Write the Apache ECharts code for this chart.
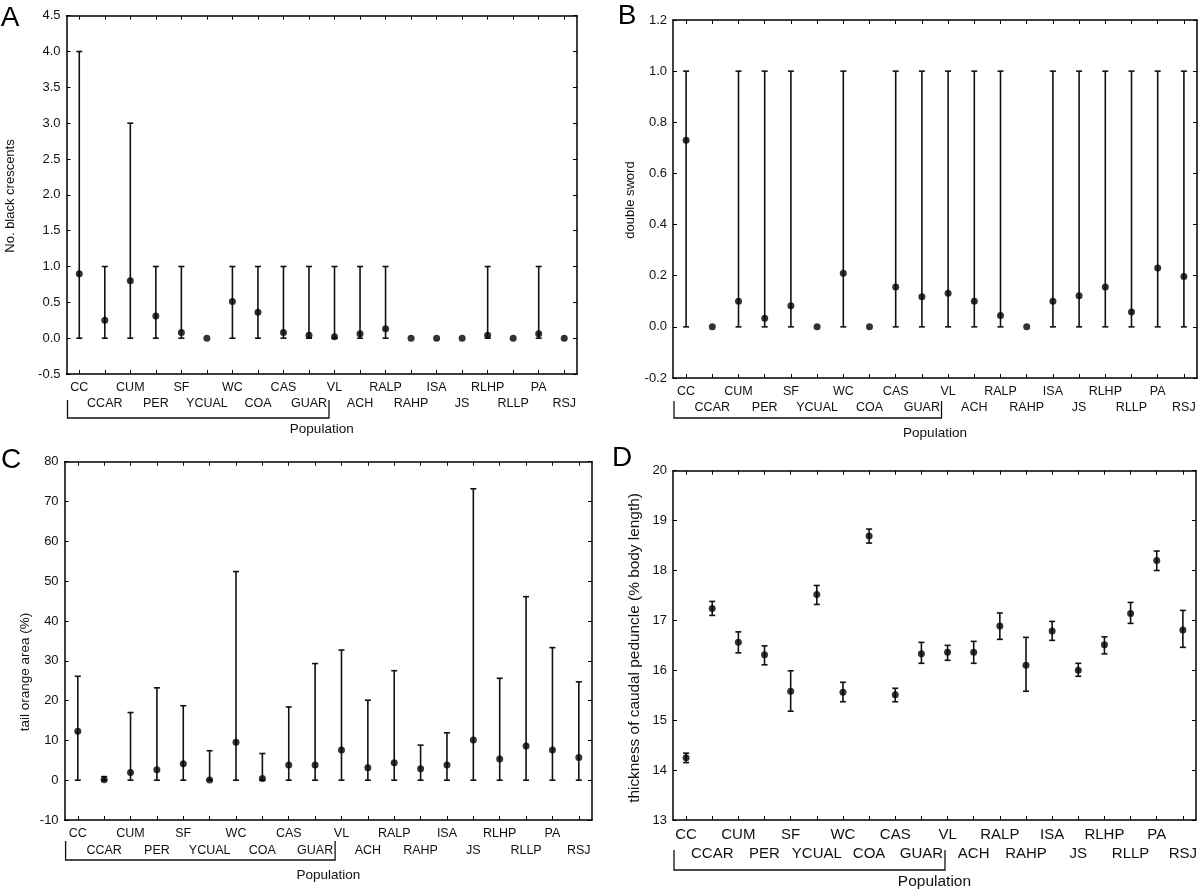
<!DOCTYPE html>
<html>
<head>
<meta charset="utf-8">
<script src="https://cdn.jsdelivr.net/npm/echarts@6/dist/echarts.min.js"></script>
<style>
html,body{margin:0;padding:0;background:#fff;}
#c{width:1200px;height:891px;}
</style>
</head>
<body>
<div id="c"></div>
<script>
// ---------- data ----------
const categories = ['CC','CCAR','CUM','PER','SF','YCUAL','WC','COA','CAS','GUAR','VL','ACH','RALP','RAHP','ISA','JS','RLHP','RLLP','PA','RSJ'];

// A: No. black crescents
const aMean = [0.90,0.25,0.80,0.31,0.08,0.00,0.51,0.36,0.08,0.04,0.02,0.06,0.13,0.00,0.00,0.00,0.04,0.00,0.06,0.00];
const aLow  = [0,0,0,0,0,0,0,0,0,0,0,0,0,0,0,0,0,0,0,0];
const aHigh = [4,1,3,1,1,0,1,1,1,1,1,1,1,0,0,0,1,0,1,0];
const aTicks = [-0.5,0,0.5,1,1.5,2,2.5,3,3.5,4,4.5];

// B: double sword
const bMean = [0.73,0.00,0.10,0.034,0.083,0.00,0.21,0.00,0.156,0.118,0.131,0.10,0.044,0.00,0.10,0.122,0.156,0.058,0.23,0.197];
const bLow  = [0,0,0,0,0,0,0,0,0,0,0,0,0,0,0,0,0,0,0,0];
const bHigh = [1,0,1,1,1,0,1,0,1,1,1,1,1,0,1,1,1,1,1,1];
const bTicks = [-0.2,0,0.2,0.4,0.6,0.8,1.0,1.2];

// C: tail orange area (%)
const cMean = [12.3,0.1,1.9,2.6,4.1,0.05,9.5,0.4,3.8,3.8,7.6,3.1,4.4,2.9,3.8,10.1,5.3,8.6,7.6,5.7];
const cLow  = [0,0,0,0,0,0,0,0,0,0,0,0,0,0,0,0,0,0,0,0];
const cHigh = [26.1,0.9,17.0,23.2,18.7,7.4,52.4,6.7,18.4,29.3,32.7,20.1,27.5,8.8,11.9,73.2,25.6,46.1,33.3,24.7];
const cTicks = [-10,0,10,20,30,40,50,60,70,80];

// D: thickness of caudal peduncle (% body length)
const dMean = [14.25,17.24,16.56,16.31,15.58,17.52,15.56,18.69,15.51,16.33,16.36,16.36,16.89,16.10,16.79,16.00,16.51,17.14,18.20,16.81];
const dLow  = [14.15,17.10,16.35,16.11,15.18,17.32,15.37,18.55,15.37,16.14,16.20,16.14,16.62,15.58,16.60,15.88,16.33,16.94,18.00,16.46];
const dHigh = [14.34,17.38,16.77,16.49,15.99,17.70,15.76,18.83,15.64,16.56,16.50,16.58,17.15,16.66,16.98,16.14,16.67,17.36,18.39,17.20];
const dTicks = [13,14,15,16,17,18,19,20];

const yTitles = ['No. black crescents','double sword','tail orange area (%)','thickness of caudal peduncle (% body length)'];
const panelLetters = ['A','B','C','D'];
const xTitle = 'Population';

// ---------- layout ----------
const FONT = '"Liberation Sans", Arial, Helvetica, sans-serif';
const INK = '#111';
const panels = [
  {mean:aMean, low:aLow, high:aHigh, ticks:aTicks, dec:1,
   grid:{left:66.5, top:15.7, width:510.5, height:358.3},
   fs:12.5, lh:16, margin:6, nameFs:13.5, nameGap:48, yLabFs:13,
   letter:[10,18], ytitle:[10,196], ytFs:13,
   br:{yTop:26, yBot:44, dx:20}},
  {mean:bMean, low:bLow, high:bHigh, ticks:bTicks, dec:1,
   grid:{left:673, top:20, width:524, height:358},
   fs:12.5, lh:16, margin:6, nameFs:13.5, nameGap:48, yLabFs:13,
   letter:[627,16], ytitle:[630,200], ytFs:13,
   br:{yTop:23, yBot:40, dx:19.6}},
  {mean:cMean, low:cLow, high:cHigh, ticks:cTicks, dec:0,
   grid:{left:64.6, top:461.7, width:527.4, height:358.3},
   fs:12.5, lh:17, margin:5, nameFs:13.5, nameGap:48, yLabFs:13,
   letter:[11,460], ytitle:[25,672], ytFs:13.5,
   br:{yTop:21, yBot:40, dx:20}},
  {mean:dMean, low:dLow, high:dHigh, ticks:dTicks, dec:0,
   grid:{left:673, top:470.7, width:525, height:350.3},
   fs:15, lh:19, margin:5.5, nameFs:15.5, nameGap:54, yLabFs:13,
   letter:[622,458], ytitle:[635,648], ytFs:15.4,
   br:{yTop:29, yBot:49, dx:23.6}}
];

const grids = [], xAxes = [], yAxes = [], series = [];
const lineSt = {color:'#000', width:1.5};
panels.forEach((p, k) => {
  grids.push(Object.assign({containLabel:false}, p.grid));
  const tmin = p.ticks[0], tmax = p.ticks[p.ticks.length-1], step = +(p.ticks[1]-p.ticks[0]).toFixed(6);
  // bottom category axis
  xAxes.push({
    type:'category', gridIndex:k, data:categories, position:'bottom',
    boundaryGap:true,
    axisLine:{show:true, onZero:false, lineStyle:lineSt},
    axisTick:{show:true, inside:true, length:4, alignWithLabel:true, interval:0, lineStyle:{color:'#000'}},
    axisLabel:{interval:0, margin:p.margin, fontSize:p.fs, lineHeight:p.lh, color:INK, fontFamily:FONT,
      formatter:(v)=>{const i=categories.indexOf(v); return i%2 ? '\n'+v : v;}},
    splitLine:{show:false},
    name:xTitle, nameLocation:'middle', nameGap:p.nameGap,
    nameTextStyle:{fontSize:p.nameFs, color:INK, fontFamily:FONT}
  });
  // top mirror axis
  xAxes.push({
    type:'category', gridIndex:k, data:categories, position:'top',
    boundaryGap:true,
    axisLine:{show:true, onZero:false, lineStyle:lineSt},
    axisTick:{show:true, inside:true, length:4, alignWithLabel:true, interval:0, lineStyle:{color:'#000'}},
    axisLabel:{show:false}, splitLine:{show:false}
  });
  // left value axis
  yAxes.push({
    type:'value', gridIndex:k, min:tmin, max:tmax, interval:step, position:'left',
    axisLine:{show:true, onZero:false, lineStyle:lineSt},
    axisTick:{show:true, inside:true, length:4, lineStyle:{color:'#000'}},
    axisLabel:{margin:6, fontSize:p.yLabFs, color:INK, fontFamily:FONT,
      formatter:(v)=>(+v).toFixed(p.dec)},
    splitLine:{show:false}
  });
  // right mirror axis
  yAxes.push({
    type:'value', gridIndex:k, min:tmin, max:tmax, interval:step, position:'right',
    axisLine:{show:true, onZero:false, lineStyle:lineSt},
    axisTick:{show:true, inside:true, length:4, lineStyle:{color:'#000'}},
    axisLabel:{show:false}, splitLine:{show:false}
  });
  const barData = categories.map((c,i)=>[i, p.low[i], p.high[i]]);
  series.push({
    type:'custom', xAxisIndex:2*k, yAxisIndex:2*k, data:barData, z:2,
    renderItem:(params, api)=>{
      const i = api.value(0), lo = api.value(1), hi = api.value(2);
      if (lo === hi) return null;
      const a = api.coord([i, lo]), b = api.coord([i, hi]);
      const w = 3;
      const st = {stroke:'#111', lineWidth:1.6};
      return {type:'group', children:[
        {type:'line', shape:{x1:a[0], y1:a[1], x2:b[0], y2:b[1]}, style:st},
        {type:'line', shape:{x1:a[0]-w, y1:a[1], x2:a[0]+w, y2:a[1]}, style:st},
        {type:'line', shape:{x1:b[0]-w, y1:b[1], x2:b[0]+w, y2:b[1]}, style:st}
      ]};
    }
  });
  series.push({
    type:'scatter', xAxisIndex:2*k, yAxisIndex:2*k, z:3,
    data:categories.map((c,i)=>[i, p.mean[i]]),
    symbol:'circle', symbolSize:7, itemStyle:{color:'#000'}
  });
});

const chart = echarts.init(document.getElementById('c'), null, {renderer:'canvas'});
chart.setOption({
  animation:false, backgroundColor:'#fff',
  grid:grids, xAxis:xAxes, yAxis:yAxes, series:series
});

// decorations: panel letters, y titles, group brackets
const graphics = [];
panels.forEach((p,k)=>{
  graphics.push({type:'text', x:p.letter[0], y:p.letter[1],
    style:{text:panelLetters[k], font:'28px '+FONT, fill:'#000', textAlign:'center', textVerticalAlign:'middle'}});
  graphics.push({type:'text', x:p.ytitle[0], y:p.ytitle[1], rotation:Math.PI/2,
    style:{text:yTitles[k], font:p.ytFs+'px '+FONT, fill:INK, textAlign:'center', textVerticalAlign:'middle'}});
  const left = p.grid.left + 1;
  const axisY = p.grid.top + p.grid.height;
  const guarX = chart.convertToPixel({xAxisIndex:2*k}, 9);
  const right = guarX + p.br.dx;
  graphics.push({type:'polyline', shape:{points:[[left,axisY+p.br.yTop],[left,axisY+p.br.yBot],[right,axisY+p.br.yBot],[right,axisY+p.br.yTop]]},
    style:{stroke:'#111', lineWidth:1.3, fill:null}});
});
chart.setOption({graphic:graphics});
</script>
</body>
</html>
